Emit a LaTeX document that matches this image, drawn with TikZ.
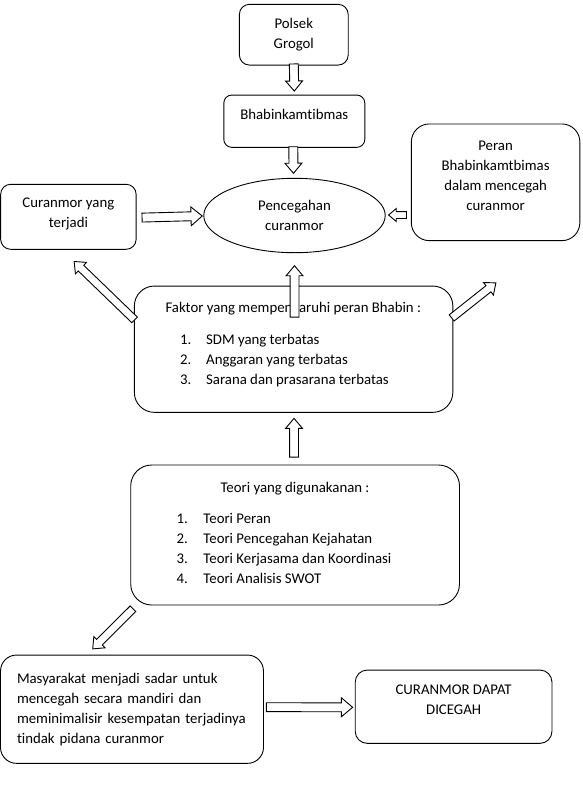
\documentclass[tikz,border=0pt]{standalone}
\usepackage{fontspec}
\setmainfont{Carlito}[Ligatures=NoCommon]
\usetikzlibrary{calc,shapes.geometric,shapes.arrows}

\tikzset{
  box/.style={draw, line width=0.9pt, rounded corners=#1, align=center, inner sep=0pt},
  box/.default=8pt,
  blockarrow/.style={draw, fill=white, line width=0.9pt, single arrow,
    single arrow head extend=4pt, single arrow tip angle=80,
    inner xsep=0pt, inner ysep=4pt, anchor=tail, sloped, allow upside down},
}
% hollow block arrow from #2 to #3
\newcommand{\fatarrow}[3][]{%
  \path let \p1=(#2), \p2=(#3), \n1={veclen(\x2-\x1,\y2-\y1)} in
    (\p1) -- (\p2) node[blockarrow, pos=0, minimum height=\n1, #1] {};}

\begin{document}
\begin{tikzpicture}[x=1pt, y=1pt, font=\fontsize{14.8}{20}\selectfont]
\useasboundingbox (0,0) rectangle (582,-809);

% boxes
\node[box=10pt, minimum width=108.8pt, minimum height=60.7pt] (polsek) at (293.8,-34.7) {Polsek\\Grogol};
\node[box=8pt, minimum width=141pt, minimum height=52.3pt, text depth=14pt] (bhabin) at (294.3,-121.2) {Bhabinkamtibmas};
\node[draw, line width=0.9pt, ellipse, align=center, inner sep=0pt, minimum width=181.5pt, minimum height=74.4pt] (pencegahan) at (294.5,-215.5) {Pencegahan\\curanmor};
\node[box=10pt, minimum width=135.5pt, minimum height=65pt, text depth=8.5pt] (curanmor) at (68.4,-216.8) {Curanmor yang\\terjadi};
\node[box=18pt, minimum width=168.5pt, minimum height=116.7pt, text depth=13.4pt] (peran) at (495.6,-182.3) {Peran\\Bhabinkamtbimas\\dalam mencegah\\curanmor};

\node[box=20pt, minimum width=318.5pt, minimum height=126.3pt] (faktor) at (293.6,-349.2) {};
\node[anchor=base] (faktortitle) at (293.3,-312.8) {Faktor yang mempengaruhi peran Bhabin :};
\node[anchor=base west, inner sep=0pt] (faktorlist) at (180,-344.5) {\begin{tabular}[t]{@{}p{26pt}@{}l@{}}
1. & SDM yang terbatas\\
2. & Anggaran yang terbatas\\
3. & Sarana dan prasarana terbatas
\end{tabular}};

\node[box=21pt, minimum width=328.8pt, minimum height=140pt] (teori) at (295.1,-535) {};
\node[anchor=base] (teorititle) at (295,-492.8) {Teori yang digunakanan :};
\node[anchor=base west, inner sep=0pt] (teorilist) at (176.3,-523.8) {\begin{tabular}[t]{@{}p{27pt}@{}l@{}}
1. & Teori Peran\\
2. & Teori Pencegahan Kejahatan\\
3. & Teori Kerjasama dan Koordinasi\\
4. & Teori Analisis SWOT
\end{tabular}};

\node[box=16pt, align=left, text width=230pt, inner xsep=16.5pt, minimum height=108.3pt] (masyarakat) at (132,-709.2) {Masyarakat menjadi sadar untuk\\mencegah secara mandiri dan\\meminimalisir kesempatan terjadinya\\tindak pidana curanmor};
\node[box=12pt, minimum width=196.7pt, minimum height=73.3pt, text depth=14pt] (dapat) at (453.6,-706.7) {CURANMOR DAPAT\\DICEGAH};

% arrows
\fatarrow{$(polsek.south)+(0,2)$}{$(bhabin.north)+(0,4)$}
\fatarrow{$(bhabin.south)+(-1,1.5)$}{$(pencegahan.north)+(-1,5)$}
\fatarrow[single arrow head extend=5pt]{$(curanmor.east)+(5,-0.8)$}{$(pencegahan.west)+(-1.5,-0.5)$}
\fatarrow[single arrow head extend=3pt, inner ysep=3pt]{$(peran.west |- pencegahan.east)+(-4,0.5)$}{$(pencegahan.east)+(3.3,0.5)$}
\fatarrow{$(pencegahan.south |- faktor.north)+(0,-32)$}{$(pencegahan.south)+(0,-13)$}
\fatarrow[inner ysep=3.5pt]{$(faktor.west)+(1,29)$}{$(curanmor.south)+(6,-12)$}
\fatarrow[inner ysep=3.5pt]{$(faktor.east)+(-2,31)$}{$(peran.south)+(0,-42)$}
\fatarrow{$(teori.north)+(-1,7)$}{$(faktor.south)+(0.4,-6)$}
\fatarrow[inner ysep=3.5pt]{$(teori.south west)+(3,-3)$}{$(masyarakat.north)+(-39,6)$}
\fatarrow[single arrow head extend=5pt]{$(masyarakat.east)+(2,2)$}{$(dapat.west)+(-2.6,-0.6)$}
\end{tikzpicture}
\end{document}
